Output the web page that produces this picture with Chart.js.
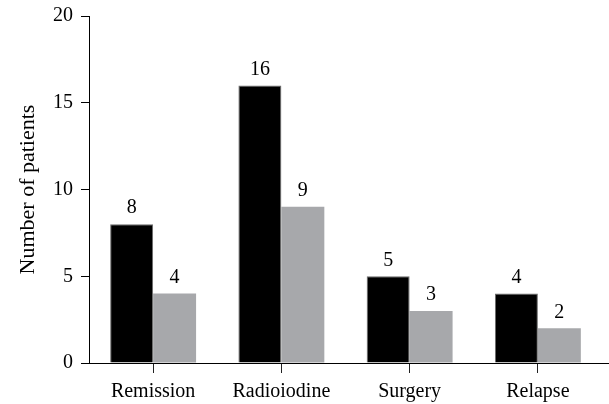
<!DOCTYPE html>
<html>
<head>
<meta charset="utf-8">
<script src="https://cdn.jsdelivr.net/npm/chart.js@4"></script>
<style>
    html, body { margin: 0; padding: 0; background: #fff; }
    #wrap { width: 609px; height: 404px; }
</style>
</head>
<body>
<div id="wrap"><canvas id="myChart"></canvas></div>
<script>
const categories = ['Remission', 'Radioiodine', 'Surgery', 'Relapse'];
const blackValues = [8, 16, 5, 4];
const grayValues = [4, 9, 3, 2];
const yTicks = [0, 5, 10, 15, 20];

const serif = '"Liberation Serif", "Times New Roman", serif';

// numbers over the bars
const valueLabels = {
    id: 'valueLabels',
    afterDatasetsDraw(chart) {
        const ctx = chart.ctx;
        ctx.save();
        ctx.fillStyle = '#000';
        ctx.font = '20px ' + serif;
        ctx.textAlign = 'center';
        ctx.textBaseline = 'bottom';
        chart.data.datasets.forEach((ds, i) => {
            chart.getDatasetMeta(i).data.forEach((bar, j) => {
                ctx.fillText(ds.data[j], bar.x, bar.y - 6);
            });
        });
        ctx.restore();
    }
};

// x axis line runs on past the last category
const axisTail = {
    id: 'axisTail',
    afterDraw(chart) {
        const ctx = chart.ctx;
        const a = chart.chartArea;
        ctx.save();
        ctx.strokeStyle = '#000';
        ctx.lineWidth = 1;
        ctx.beginPath();
        ctx.moveTo(a.right, a.bottom + 0.5);
        ctx.lineTo(chart.width, a.bottom + 0.5);
        ctx.stroke();
        ctx.restore();
    }
};

new Chart(document.getElementById('myChart'), {
    type: 'bar',
    data: {
        labels: categories,
        datasets: [{
            data: blackValues,
            backgroundColor: '#000',
            borderColor: '#6b6b6b',
            borderWidth: 1,
            categoryPercentage: 0.67,
            barPercentage: 1.0
        }, {
            data: grayValues,
            backgroundColor: '#a7a8ab',
            borderWidth: 0,
            categoryPercentage: 0.67,
            barPercentage: 1.0
        }]
    },
    options: {
        responsive: true,
        maintainAspectRatio: false,
        animation: false,
        layout: { padding: { top: 16, right: 7, left: 0, bottom: 0 } },
        plugins: {
            legend: { display: false },
            tooltip: { enabled: false }
        },
        scales: {
            x: {
                grid: { display: true, drawOnChartArea: false, offset: false, tickLength: 10, color: '#222' },
                border: { color: '#000', width: 1 },
                ticks: { color: '#000', font: { family: serif, size: 20 }, padding: 7 },
                afterFit(scale) {
                    scale.height = 41;
                    scale.paddingLeft = 0;
                    scale.paddingRight = 0;
                }
            },
            y: {
                min: 0,
                max: 20,
                afterBuildTicks(scale) { scale.ticks = yTicks.map(v => ({ value: v })); },
                grid: { display: true, drawOnChartArea: false, tickLength: 8, color: '#000' },
                border: { color: '#000', width: 1 },
                ticks: { color: '#000', font: { family: serif, size: 20 }, padding: 8 },
                title: {
                    display: true,
                    text: 'Number of patients',
                    color: '#000',
                    font: { family: serif, size: 22 },
                    padding: { top: 15, bottom: 8 }
                },
                afterFit(scale) {
                    scale.width = 89;
                    scale.paddingTop = 0;
                    scale.paddingBottom = 0;
                }
            }
        }
    },
    plugins: [valueLabels, axisTail]
});
</script>
</body>
</html>
